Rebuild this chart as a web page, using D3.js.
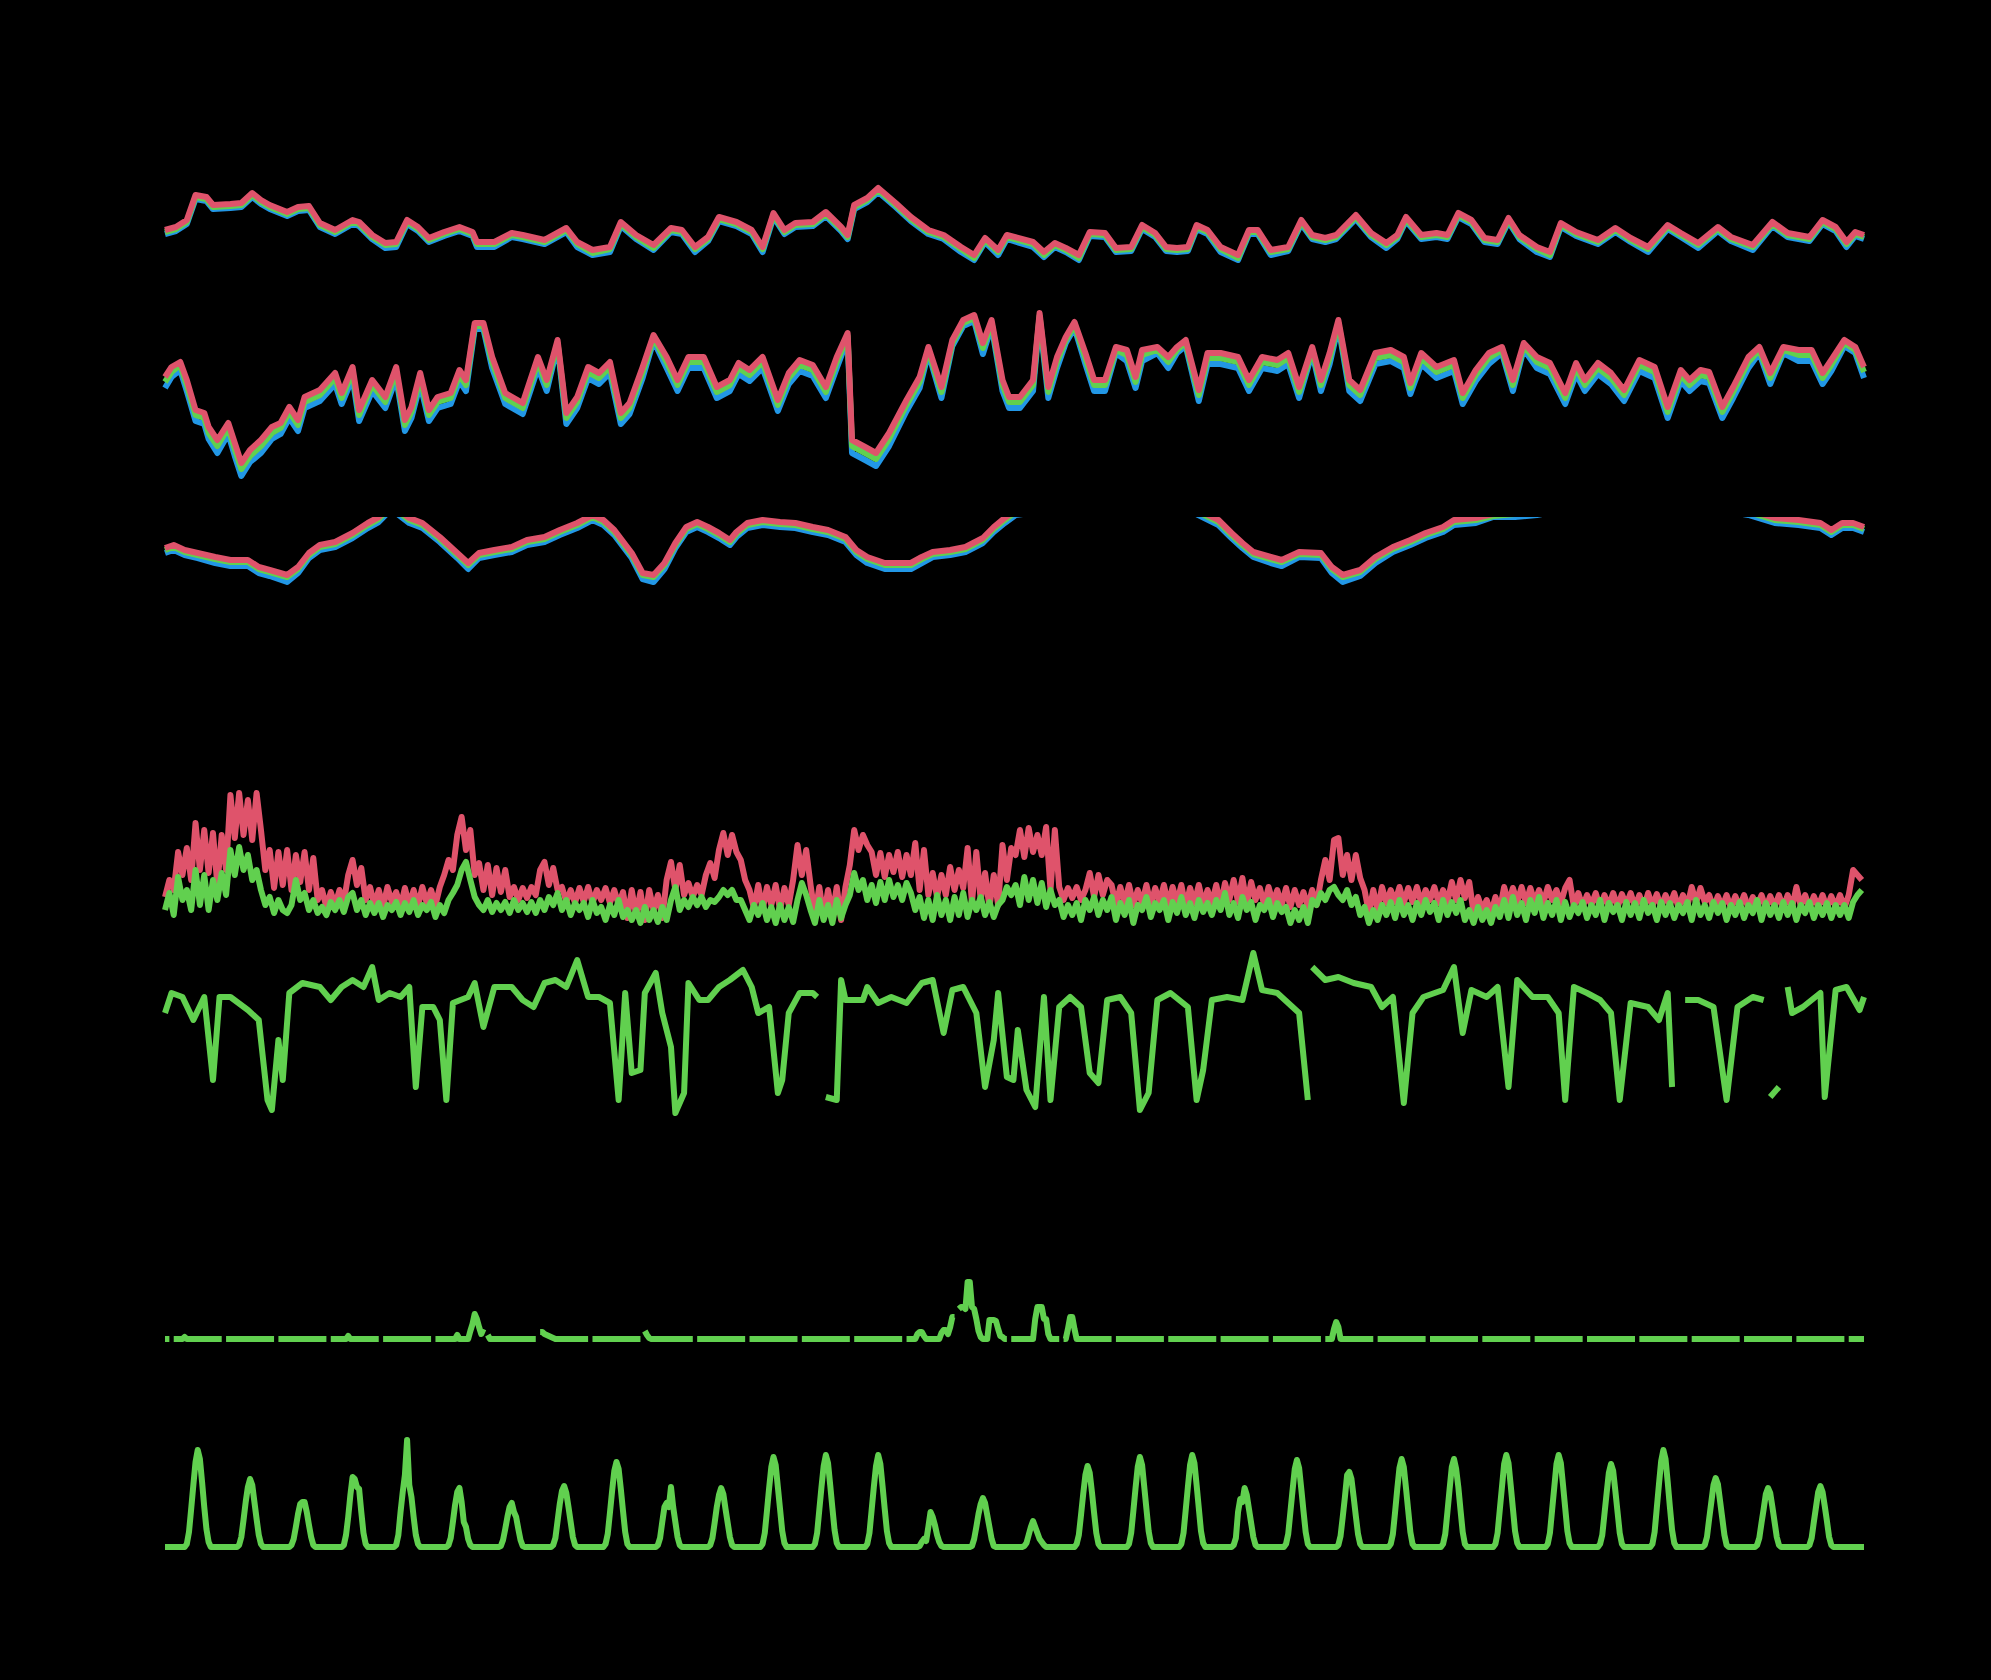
<!DOCTYPE html>
<html>
<head>
<meta charset="utf-8">
<script src="https://cdn.jsdelivr.net/npm/d3@7"></script>
<style>
  html, body { margin: 0; padding: 0; background: #000; }
</style>
</head>
<body>
<div id="chart-container"></div>
<script>
// ---- data (hour index from the start of the record, 780 hourly steps) ----
const nHours = 780;

// panel 1: three close series (high / mid / low)
const p1Hours = [0,5,10,14,19,22,30,35,40,44, 48,56,61,66,71,78,86,89,95,101, 106,111,116,121,128,135,141,143,151,159,
  164,174,184,189,196,204,209,216,224,232, 237,243,249,254,262,269,274,279,284,289, 297,303,310,313,316,322,327,335,342,350,
  357,365,371,376,382,386, 398,403,408,413,419,424,431,436,443,448, 454,459,464,469,473,478,484,492,497,501,
  507,515,521,526,532,537,546,553,560,565, 569,576,583,588,593,599,605,611,616,621, 629,635,640,647,657,665,672,680,689,695,
  703,712,718,728,737,744,754,760,766,771, 775,779];
const p1Red = [40,43,50,75,73,65,66,67,77,70, 65,58,63,64,47,40,50,48,35,27, 28,50,43,32,38,43,38,28,28,37,
  35,30,42,28,20,23,48,35,25,42, 40,23,33,53,48,40,23,57,40,47, 48,58,43,35,65,72,82,67,53,40,
  35,23,15,32,20,35, 28,18,27,22,15,38,37,22,23,45, 37,23,22,23,45,40,23,15,40,40,
  20,23,50,35,32,35,55,37,27,35, 53,35,37,35,57,50,32,30,52,35, 23,18,47,38,30,42,32,23,45,37,
  27,43,33,25,48,37,33,50,43,28, 38,35];
const p1Green = [38,41,48,73,71,63,64,65,75,68, 63,56,61,62,45,38,48,46,33,25, 26,48,41,30,36,41,36,26,26,35,
  33,28,40,26,17,21,46,33,22,40, 38,21,31,51,46,38,21,55,38,45, 46,56,41,33,63,70,80,65,51,38,
  33,21,12,30,18,33, 26,15,25,20,12,36,35,20,21,43, 35,21,20,21,43,38,21,12,38,38,
  18,21,48,33,30,33,53,35,25,33, 51,33,35,33,55,48,30,28,50,33, 21,15,45,36,28,40,30,21,43,35,
  25,41,31,23,46,35,31,48,41,26, 36,33];
const p1Blue = [36,39,46,71,69,61,62,63,73,66, 61,54,59,60,43,36,46,44,31,22, 23,46,39,28,34,39,34,23,23,33,
  31,26,38,23,15,18,44,31,20,38, 36,18,29,49,44,36,18,53,36,43, 44,54,39,31,61,68,78,63,49,36,
  31,18,10,28,15,31, 23,13,23,18,10,34,33,18,19,41, 33,19,18,19,41,36,18,10,36,36,
  15,19,46,31,28,31,51,33,22,31, 49,31,33,31,53,46,28,26,48,31, 18,13,43,34,26,38,28,18,41,33,
  22,39,29,20,44,33,29,46,39,23, 34,31];

// panel 2
const p2Hours = [0,3,7,10,14,18,20,24,29,32, 35,39,44,49,53,57,61,64,71,78, 81,86,89,95,101,106,110,113,117,121,
  125,131,135,138,142,146,150,156,164,171, 175,180,184,189,194,199,204,209,213,219, 224,230,235,240,247,253,259,263,268,274,
  281,286,291,297,303,308,313,315,321,326, 332,340,346,350,356,361,366,371,375,379, 384,387,
  392,398,401,405,409,413,417,422,426,431, 436,441,445,448,455,460,464,468,474,478, 484,492,497,503,510,515,520,526,530,534,
  538,543,548,555,562,568,571,576,583,591, 595,601,607,613,618,623,629,635,642,647, 651,657,663,669,676,683,689,695,699,704,
  708,714,719,726,731,736,742,749,755,760, 764,770,775,779];
const p2Red = [113,123,128,110,80,77,63,50,67,47, 27,40,50,63,67,83,70,93,100,117, 97,123,80,110,93,123,70,83,117,80,
  93,97,120,110,167,167,133,97,87,133, 110,150,77,93,123,117,128,77,87,123, 155,133,110,133,133,103,110,127,120,133,
  90,117,130,125,103,133,157,50,43,37, 57,90,113,143,103,150,170,175,147,170, 110,93,
  93,110,177,103,133,153,168,137,110,110, 143,140,113,140,143,133,143,150,100,137, 137,133,110,133,130,137,103,143,110,137,
  170,110,100,137,140,133,107,137,123,130, 97,120,137,143,110,147,133,127,97,127, 110,127,117,100,130,123,83,120,110,120,
  118,83,103,133,143,117,143,140,140,117, 130,150,143,123];
const p2Green = [108,118,125,105,75,72,57,44,62,41, 21,34,44,57,62,78,65,88,95,112, 92,118,75,105,88,118,65,78,112,75,
  88,92,115,105,164,164,128,92,82,128, 105,147,72,88,118,112,123,72,82,118, 152,128,105,128,128,98,105,122,115,128,
  85,112,125,120,98,128,154,44,37,31, 51,85,108,140,98,147,167,172,142,167, 105,88,
  88,105,174,98,128,150,165,132,105,105, 140,135,108,135,140,128,140,147,95,132, 132,128,105,128,125,132,98,140,105,132,
  167,105,95,132,135,128,102,132,118,125, 92,115,132,140,105,144,128,122,92,122, 105,122,112,95,125,118,78,115,105,115,
  113,78,98,128,140,112,140,135,135,112, 125,147,140,118];
const p2Blue = [102,113,120,99,69,66,51,37,56,34, 14,28,37,51,56,72,59,82,89,106, 86,112,69,99,82,112,59,72,106,69,
  82,86,109,99,161,161,122,86,76,122, 99,144,66,82,112,106,117,66,76,112, 149,122,99,122,122,92,99,116,109,122,
  79,106,119,114,92,122,151,37,30,24, 44,79,102,137,92,144,164,169,136,164, 99,82,
  82,99,171,92,122,147,162,126,99,99, 137,129,102,129,137,122,137,144,89,126, 126,122,99,122,119,126,92,137,99,126,
  164,99,89,126,129,122,96,126,112,119, 86,109,126,137,99,141,122,116,86,116, 99,116,106,89,119,112,72,109,99,109,
  107,72,92,122,137,106,137,129,129,106, 119,144,137,112];

// panel 3 (runs above the top of its panel in places)
const p3Hours = [0,4,9,15,23,30,38,43,48,56, 61,66,71,78,86,93,98,102,106,112, 118,126,134,139,144,151,159,166,174,181,
  189,196,201,206,214,219,224,229,234,239, 244,249,254,259,262,267,274,282,289,297, 304,312,317,322,330,337,342,347,352,360,
  367,375,380,385,390,410,430,450,470,483, 489,494,499,507,512,520,530,535,540,548, 555,563,571,578,586,591,601,609,619,629,
  654,680,705,726,738,749,759,764,769,774, 779];
const p3Red = [52,55,50,47,43,40,40,33,30,25, 33,47,55,58,67,77,83,92,92,82, 77,63,47,37,47,50,53,60,63,70,
  77,85,80,70,47,27,25,37,57,73, 78,73,67,60,68,77,80,78,77,73, 70,63,50,43,37,37,37,43,48,50,
  53,62,73,82,90,96,102,100,94,80, 67,57,48,43,40,48,47,33,25,30, 43,53,60,67,73,80,82,86,88,90,
  100,104,98,90,82,80,77,70,77,77, 73];
const p3Green = [50,53,48,45,41,38,38,31,28,23, 31,45,53,56,65,75,81,90,90,80, 75,61,45,35,45,48,51,58,61,68,
  75,83,78,68,45,25,23,35,55,71, 76,71,65,58,66,75,78,76,75,71, 68,61,48,41,35,35,35,41,46,48,
  51,60,71,80,88,94,100,98,92,78, 65,55,46,41,38,46,45,31,23,28, 41,51,58,65,71,78,80,84,86,88,
  98,102,96,88,80,78,75,68,75,75, 71];
const p3Blue = [47,50,45,42,37,34,34,27,24,18, 27,42,50,53,62,72,78,87,87,77, 72,58,42,31,42,45,48,55,58,65,
  72,80,75,65,42,21,18,31,52,68, 73,68,62,55,63,72,75,73,72,68, 65,58,45,37,31,31,31,37,43,45,
  48,57,68,77,85,91,97,95,89,75, 62,52,43,37,34,43,42,27,18,24, 37,48,55,62,68,75,77,83,83,85,
  95,99,93,85,77,75,72,65,72,72, 68];

// panel 4: gust (red) and mean (green), every 2 hours, one row per day
const p4Gust = [
  33,50,40,78,55,82,50,107,60,100,57,97,
  45,95,60,135,92,137,95,130,90,137,100,60,
  80,42,78,45,80,40,75,48,78,40,72,30,
  40,23,38,25,40,28,55,70,45,62,30,43,
  25,40,23,43,28,38,23,42,25,40,24,43,
  27,40,25,43,55,70,60,95,113,80,100,55,
  67,40,65,35,62,38,60,33,43,30,42,32,
  43,35,60,68,45,62,40,43,28,40,27,42,
  28,43,27,40,30,42,27,40,25,38,12,40,
  15,38,10,40,20,35,12,50,68,40,65,35,
  47,33,45,35,55,67,52,80,97,75,95,78,
  70,50,40,22,45,20,43,25,45,20,42,25,
  50,85,55,80,45,15,43,12,40,15,43,10,
  43,65,100,80,95,85,78,55,77,53,75,58,
  78,53,75,55,87,40,80,35,57,33,55,35,
  63,40,60,42,82,27,78,30,57,23,55,25,
  85,50,82,75,100,73,102,78,95,75,103,40,
  100,43,30,42,32,43,30,40,57,33,55,35,
  50,45,25,43,27,45,25,40,27,45,25,42,
  28,45,25,43,27,45,23,42,27,45,25,40,
  27,45,25,47,30,50,28,52,25,48,30,42,
  25,43,27,40,25,42,23,40,25,38,23,40,
  25,50,70,50,90,92,55,75,50,75,52,40,
  17,40,20,43,27,40,28,43,27,42,28,43,
  27,40,30,43,27,40,28,48,30,50,32,48,
  17,33,20,30,17,33,20,43,27,42,28,43,
  27,42,28,40,27,43,30,40,27,42,50,23,
  37,23,35,25,37,22,35,24,37,23,36,25,
  37,23,35,22,37,24,36,23,35,25,37,22,
  35,24,43,27,42,28,35,22,34,23,35,22,
  34,23,35,22,33,24,35,22,34,23,35,22,
  35,22,43,24,35,22,34,23,35,22,34,23,
  35,22,35,60,55,50
];
const p4Mean = [
  20,37,15,53,30,40,20,60,25,55,20,50,
  30,57,35,80,55,83,60,75,50,60,40,25,
  33,17,30,20,17,25,50,30,37,20,30,17,
  23,15,28,20,30,18,33,37,20,30,15,27,
  17,27,13,25,20,28,15,27,18,30,15,25,
  20,28,13,25,17,30,37,45,60,68,50,33,
  25,20,30,18,27,20,28,17,30,20,27,18,
  28,17,30,20,33,25,37,20,30,15,27,20,
  27,13,30,17,23,10,25,15,30,13,20,10,
  20,7,23,10,20,8,23,10,30,43,20,30,
  23,33,25,33,23,30,28,33,40,35,40,30,
  30,20,10,25,15,27,10,23,7,25,10,23,
  8,30,47,35,20,7,30,10,25,7,30,12,
  25,35,57,40,50,30,45,27,48,30,50,33,
  45,30,47,37,20,33,12,30,10,35,15,30,
  10,33,15,37,13,30,20,33,15,28,13,25,
  30,43,35,45,25,53,30,50,27,47,23,40,
  25,30,13,25,15,27,10,30,20,33,15,30,
  20,33,10,27,15,30,7,25,20,33,13,27,
  20,30,10,28,17,33,15,27,12,30,18,27,
  15,30,20,37,15,27,12,33,20,28,10,25,
  20,30,13,27,18,23,7,20,10,23,7,30,
  25,37,30,40,43,35,30,40,25,33,15,23,
  7,20,10,25,15,28,12,30,15,25,10,27,
  15,30,18,27,10,30,15,28,17,30,10,20,
  7,23,10,20,7,23,13,30,12,33,15,27,
  10,30,17,33,12,27,15,30,10,28,13,25,
  17,28,12,25,15,30,10,27,18,25,10,28,
  15,27,12,30,17,25,10,28,15,27,12,25,
  17,28,10,30,15,25,12,28,17,27,10,25,
  15,28,12,25,17,30,10,27,15,25,12,28,
  15,27,10,25,17,28,12,25,15,27,12,25,
  15,25,12,28,35,40
];

// panel 5 (null = missing reading)
const p5Hours = [0,3,8,13,18,22,25,30,38,43, 47,49,52,54,57,63,71,76,81,86, 91,95,98,103,108,112,115,118,123,126,
  129,132,139,142,146,151,159,164,169,174, 179,184,189,194,199,204,208,211,214,218, 220,225,228,232,234,238,240,245,249,254,
  259,265,269,272,277,281,283,286,291,297, 299,301,303,308,310,312,320,322,327,333, 340,347,352,357,361,366,372,376,380,382,
  386,389,391,395,399,403,406,410,415,420, 424,428,432,438,443,447,451,455,461,469, 473,476,480,487,494,499,503,510,515,520,
  524,525,526,532,538,545,553,558,563,568, 572,577,586,591,595,599,606,611,616,620, 627,634,639,642,646,652,658,663,667,672,
  680,685,689,691,693,697,703,710,716,721, 728,733,735,736,740,742,744,746,751,759, 761,766,771,777,779];
const p5Values = [112,132,128,105,128,45,128,128,115,105, 25,15,85,45,132,142,138,125,138,145, 138,158,125,132,128,138,38,118,118,105,
  25,122,128,142,98,138,138,125,118,142, 145,138,165,128,128,122,25,132,52,55, 132,152,112,78,12,32,142,125,125,138,
  145,155,138,112,118,32,45,112,132,132, 128,null,28,25,145,125,125,138,122,128, 122,142,145,92,135,138,112,38,85,132,
  48,45,95,35,18,128,25,118,128,118, 52,42,125,128,112,15,32,125,132,118, 25,55,125,128,125,172,135,132,122,112,
  25,null,158,145,148,142,138,118,128,22, 112,128,135,158,92,135,128,138,38,145, 128,128,112,25,138,132,125,112,25,122,
  118,105,132,38,null,125,125,118,25,118, 128,125,null,28,38,null,138,112,118,132, 28,135,138,115,128];

// panel 6: hourly, one row per day, missing reading at each daily reset
const rainHourly = [
  0,0,0,null,0,0,0,0,0,2,0,0,0,0,0,0,0,0,0,0,0,0,0,0,
  0,0,0,null,0,0,0,0,0,0,0,0,0,0,0,0,0,0,0,0,0,0,0,0,
  0,0,0,null,0,0,0,0,0,0,0,0,0,0,0,0,0,0,0,0,0,0,0,0,
  0,0,0,null,0,0,0,0,0,0,0,0,3,0,0,0,0,0,0,0,0,0,0,0,
  0,0,0,null,0,0,0,0,0,0,0,0,0,0,0,0,0,0,0,0,0,0,0,0,
  0,0,0,null,0,0,0,0,0,0,0,0,0,0,4,0,0,0,0,0,8,15,25,20,
  12,5,10,null,4,0,0,0,0,0,0,0,0,0,0,0,0,0,0,0,0,0,0,0,
  0,0,0,null,7,7,5,4,3,2,1,0,0,0,0,0,0,0,0,0,0,0,0,0,
  0,0,0,null,0,0,0,0,0,0,0,0,0,0,0,0,0,0,0,0,0,0,0,0,
  0,0,0,null,8,4,1,0,0,0,0,0,0,0,0,0,0,0,0,0,0,0,0,0,
  0,0,0,null,0,0,0,0,0,0,0,0,0,0,0,0,0,0,0,0,0,0,0,0,
  0,0,0,null,0,0,0,0,0,0,0,0,0,0,0,0,0,0,0,0,0,0,0,0,
  0,0,0,null,0,0,0,0,0,0,0,0,0,0,0,0,0,0,0,0,0,0,0,0,
  0,0,0,null,0,0,0,0,0,0,0,0,0,0,0,0,0,0,0,0,0,0,0,0,
  0,0,0,null,0,0,0,0,0,5,7,7,3,0,0,0,0,0,0,0,6,9,9,5,
  12,22,22,null,30,32,32,30,57,57,32,30,20,8,2,0,0,0,19,19,19,18,10,3,
  2,0,0,null,0,0,0,0,0,0,0,0,0,0,0,20,32,32,32,20,20,5,0,0,
  0,0,0,null,0,0,10,22,22,10,0,0,0,0,0,0,0,0,0,0,0,0,0,0,
  0,0,0,null,0,0,0,0,0,0,0,0,0,0,0,0,0,0,0,0,0,0,0,0,
  0,0,0,null,0,0,0,0,0,0,0,0,0,0,0,0,0,0,0,0,0,0,0,0,
  0,0,0,null,0,0,0,0,0,0,0,0,0,0,0,0,0,0,0,0,0,0,0,0,
  0,0,0,null,0,0,0,0,0,0,0,0,0,0,0,0,0,0,0,0,0,0,0,0,
  0,0,0,null,0,0,0,0,10,17,12,0,0,0,0,0,0,0,0,0,0,0,0,0,
  0,0,0,null,0,0,0,0,0,0,0,0,0,0,0,0,0,0,0,0,0,0,0,0,
  0,0,0,null,0,0,0,0,0,0,0,0,0,0,0,0,0,0,0,0,0,0,0,0,
  0,0,0,null,0,0,0,0,0,0,0,0,0,0,0,0,0,0,0,0,0,0,0,0,
  0,0,0,null,0,0,0,0,0,0,0,0,0,0,0,0,0,0,0,0,0,0,0,0,
  0,0,0,null,0,0,0,0,0,0,0,0,0,0,0,0,0,0,0,0,0,0,0,0,
  0,0,0,null,0,0,0,0,0,0,0,0,0,0,0,0,0,0,0,0,0,0,0,0,
  0,0,0,null,0,0,0,0,0,0,0,0,0,0,0,0,0,0,0,0,0,0,0,0,
  0,0,0,null,0,0,0,0,0,0,0,0,0,0,0,0,0,0,0,0,0,0,0,0,
  0,0,0,null,0,0,0,0,0,0,0,0,0,0,0,0,0,0,0,0,0,0,0,0,
  0,0,0,null,0,0,0,0,0,0,0,0
];

// panel 7: hourly, one row per day
const solarHourly = [
  0,0,0,0,0,0,0,0,0,0, 3,15,38,62,85,97,88,65,40,18,5, 0,0,0,
  0,0,0,0,0,0,0,0,0,0, 2,10,27,45,60,68,62,45,28,12,3, 0,0,0,
  0,0,0,0,0,0,0,0,0,0, 2,8,20,33,43,45,45,35,22,10,2, 0,0,0,
  0,0,0,0,0,0,0,0,0,0, 2,12,30,52,70,68,60,58,35,14,3, 0,0,0,
  0,0,0,0,0,0,0,0,0,0, 2,12,35,55,72,107,62,50,30,12,3, 0,0,0,
  0,0,0,0,0,0,0,0,0,0, 2,9,25,42,55,59,45,25,20,8,2, 0,0,0,
  0,0,0,0,0,0,0,0,0,0, 1,7,18,30,40,44,35,30,18,7,1, 0,0,0,
  0,0,0,0,0,0,0,0,0,0, 2,9,26,43,56,61,54,40,25,10,2, 0,0,0,
  0,0,0,0,0,0,0,0,0,0, 3,13,34,56,76,85,78,58,36,15,3, 0,0,0,
  0,0,0,0,0,0,0,0,0,0, 2,9,25,40,44,40,60,40,25,10,2, 0,0,0,
  0,0,0,0,0,0,0,0,0,0, 2,9,24,40,52,59,53,38,24,10,2, 0,0,0,
  0,0,0,0,0,0,0,0,0,0, 3,14,36,59,80,90,82,60,38,16,4, 0,0,0,
  0,0,0,0,0,0,0,0,0,0, 3,14,37,60,81,92,84,62,39,17,4, 0,0,0,
  0,0,0,0,0,0,0,0,0,0, 3,14,37,60,81,92,83,61,38,16,4, 0,0,0,
  0,0,0,0,0,0,0,0,0,0, 1,5,8,6,20,35,30,22,12,5,1, 0,0,0,
  0,0,0,0,0,0,0,0,0,0, 1,8,20,33,43,49,44,32,20,8,1, 0,0,0,
  0,0,0,0,0,0,0,0,0,0, 1,4,12,20,26,20,14,8,5,2,0, 0,0,0,
  0,0,0,0,0,0,0,0,0,0, 3,12,32,53,72,81,74,55,34,14,3, 0,0,0,
  0,0,0,0,0,0,0,0,0,0, 3,14,36,59,80,90,82,60,38,16,4, 0,0,0,
  0,0,0,0,0,0,0,0,0,0, 3,14,37,60,82,92,84,62,39,16,4, 0,0,0,
  0,0,0,0,0,0,0,0,0,0, 2,9,35,48,45,59,52,38,24,10,2, 0,0,0,
  0,0,0,0,0,0,0,0,0,0, 3,13,35,57,78,87,79,58,36,15,3, 0,0,0,
  0,0,0,0,0,0,0,0,0,0, 2,11,30,50,72,75,68,50,31,13,3, 0,0,0,
  0,0,0,0,0,0,0,0,0,0, 3,13,35,58,79,88,80,59,37,15,3, 0,0,0,
  0,0,0,0,0,0,0,0,0,0, 3,13,35,58,80,88,78,60,37,15,3, 0,0,0,
  0,0,0,0,0,0,0,0,0,0, 3,14,37,60,83,92,84,62,39,16,4, 0,0,0,
  0,0,0,0,0,0,0,0,0,0, 3,14,37,60,83,92,84,62,39,16,4, 0,0,0,
  0,0,0,0,0,0,0,0,0,0, 3,12,33,54,74,83,76,56,35,14,3, 0,0,0,
  0,0,0,0,0,0,0,0,0,0, 3,15,39,63,86,97,88,65,40,17,4, 0,0,0,
  0,0,0,0,0,0,0,0,0,0, 2,10,28,45,62,69,63,46,29,12,2, 0,0,0,
  0,0,0,0,0,0,0,0,0,0, 2,9,24,38,53,59,54,40,25,10,2, 0,0,0,
  0,0,0,0,0,0,0,0,0,0, 2,9,25,40,55,61,55,41,26,10,2, 0,0,0,
  0,0,0,0,0,0,0,0,0,0,0,0
];

// ---- drawing ----
const RED = "#DF536B", GREEN = "#61D04F", BLUE = "#2297E6";
const width = 1991, height = 1680;
const hourly = d3.range(nHours);
const twoHourly = d3.range(0, nHours, 2);

const svg = d3.select("#chart-container")
  .append("svg")
  .attr("width", width)
  .attr("height", height)
  .style("background", "#000");

const x = d3.scaleLinear().domain([0, nHours - 1]).range([165, 1864]);

const panels = [
  { top: 180, bottom: 270, max: 90, clipTop: 150,
    series: [[p1Hours, p1Blue, BLUE], [p1Hours, p1Green, GREEN], [p1Hours, p1Red, RED]] },
  { top: 290, bottom: 490, max: 200, clipTop: 280,
    series: [[p2Hours, p2Blue, BLUE], [p2Hours, p2Green, GREEN], [p2Hours, p2Red, RED]] },
  { top: 500, bottom: 600, max: 100, clipTop: 517,
    series: [[p3Hours, p3Blue, BLUE], [p3Hours, p3Green, GREEN], [p3Hours, p3Red, RED]] },
  { top: 780, bottom: 930, max: 150, clipTop: 760,
    series: [[twoHourly, p4Gust, RED], [twoHourly, p4Mean, GREEN]] },
  { top: 945, bottom: 1125, max: 180, clipTop: 935,
    series: [[p5Hours, p5Values, GREEN]] },
  { top: 1279, bottom: 1339, max: 60, clipTop: 1260,
    series: [[hourly, rainHourly, GREEN]] },
  { top: 1437, bottom: 1547, max: 110, clipTop: 1420,
    series: [[hourly, solarHourly, GREEN]] }
];

panels.forEach((p, i) => {
  const y = d3.scaleLinear().domain([0, p.max]).range([p.bottom, p.top]);

  const clipId = "clip-" + i;
  svg.append("clipPath")
    .attr("id", clipId)
    .append("rect")
    .attr("x", x.range()[0] - 10)
    .attr("y", p.clipTop)
    .attr("width", x.range()[1] - x.range()[0] + 20)
    .attr("height", p.bottom - p.clipTop + 20);

  const g = svg.append("g").attr("clip-path", "url(#" + clipId + ")");

  // axis drawn in black, as in the original
  svg.append("g")
    .attr("transform", "translate(" + (x.range()[0] - 12) + ",0)")
    .call(d3.axisLeft(y).ticks(3).tickSize(0).tickFormat(""))
    .call(a => a.select(".domain").attr("stroke", "#000"));

  const line = d3.line()
    .defined(d => d[1] != null)
    .x(d => x(d[0]))
    .y(d => y(d[1]));

  p.series.forEach(([hrs, vals, color]) => {
    g.append("path")
      .datum(hrs.map((h, k) => [h, vals[k]]))
      .attr("fill", "none")
      .attr("stroke", color)
      .attr("stroke-width", 6)
      .attr("stroke-linejoin", "round")
      .attr("stroke-linecap", "butt")
      .attr("d", line);
  });
});
</script>
</body>
</html>
